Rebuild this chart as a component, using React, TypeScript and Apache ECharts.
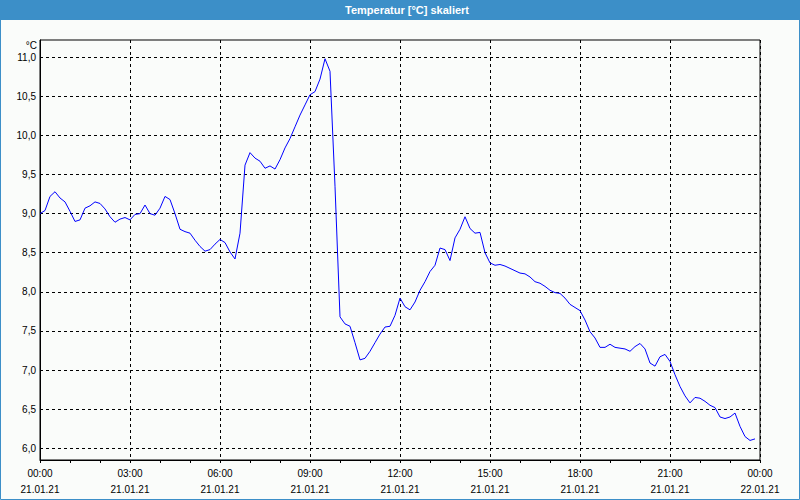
import React, { useEffect, useRef } from "react";
import * as echarts from "echarts";

// Temperature readings every 10 minutes, 21.01.21 00:00 .. 23:50
const temps: number[] = [
  9.0, 9.04, 9.22, 9.28, 9.2, 9.15, 9.03, 8.9, 8.92, 9.07,
  9.1, 9.15, 9.13, 9.06, 8.96, 8.89, 8.93, 8.95, 8.92, 8.99,
  9.0, 9.11, 9.0, 8.98, 9.07, 9.22, 9.18, 9.0, 8.8, 8.77,
  8.75, 8.66, 8.58, 8.52, 8.54, 8.61, 8.67, 8.63, 8.51, 8.42,
  8.75, 9.62, 9.78, 9.71, 9.67, 9.58, 9.61, 9.57, 9.69, 9.84,
  9.96, 10.11, 10.26, 10.39, 10.52, 10.56, 10.72, 10.98, 10.82, 9.35,
  7.68, 7.59, 7.56, 7.35, 7.13, 7.15, 7.24, 7.35, 7.46, 7.55,
  7.56, 7.7, 7.92, 7.81, 7.77, 7.87, 8.02, 8.13, 8.26, 8.34,
  8.56, 8.54, 8.4, 8.69, 8.8, 8.96, 8.81, 8.75, 8.76, 8.5,
  8.37, 8.34, 8.35, 8.33, 8.3, 8.27, 8.24, 8.23, 8.19, 8.13,
  8.11, 8.07, 8.02, 7.99, 7.98, 7.92, 7.84, 7.8, 7.76, 7.64,
  7.49, 7.41, 7.29, 7.29, 7.33, 7.29, 7.28, 7.27, 7.24, 7.3,
  7.34, 7.27, 7.09, 7.05, 7.17, 7.2, 7.11, 6.94, 6.79, 6.67,
  6.58, 6.65, 6.64, 6.6, 6.55, 6.52, 6.4, 6.38, 6.4, 6.45,
  6.28, 6.15, 6.1, 6.12,
];
const sampleMinutes = 10;

const xTickLabels: string[] = [
  "00:00\n21.01.21",
  "03:00\n21.01.21",
  "06:00\n21.01.21",
  "09:00\n21.01.21",
  "12:00\n21.01.21",
  "15:00\n21.01.21",
  "18:00\n21.01.21",
  "21:00\n21.01.21",
  "00:00\n22.01.21",
];
const yTicks: number[] = [6.0, 6.5, 7.0, 7.5, 8.0, 8.5, 9.0, 9.5, 10.0, 10.5, 11.0];

const TITLE = "Temperatur [°C] skaliert";
const UNIT = "°C";

const BLUE = "#3c8fc8";
const BG = "#fafcfa";
const FONT = "Liberation Sans";

export default function App() {
  const ref = useRef<HTMLDivElement>(null);

  useEffect(() => {
    if (!ref.current) return;
    const chart = echarts.init(ref.current, null, { renderer: "svg" });
    const data = temps.map((v, i) => [i * sampleMinutes, v]);
    chart.setOption({
      animation: false,
      backgroundColor: BG,
      grid: {
        left: 40,
        right: 40,
        top: 40,
        bottom: 40,
        show: true,
        borderColor: "#000",
        borderWidth: 1,
        backgroundColor: BG,
      },
      xAxis: {
        type: "value",
        min: 0,
        max: 1440,
        interval: 180,
        axisLine: { show: true, lineStyle: { color: "#000", width: 1 } },
        axisTick: { show: true, length: 3, lineStyle: { color: "#000" } },
        minorTick: { show: true, splitNumber: 3, length: 3, lineStyle: { color: "#000" } },
        splitLine: { show: true, lineStyle: { color: "#000", type: [3, 3], width: 1 } },
        axisLabel: {
          margin: 5,
          color: "#000",
          fontFamily: FONT,
          fontSize: 10,
          lineHeight: 16,
          align: "center",
          formatter: (v: number) => xTickLabels[Math.round(v / 180)] ?? "",
        },
      },
      yAxis: {
        type: "value",
        min: 5.85,
        max: 11.22,
        axisLine: { show: true, lineStyle: { color: "#000", width: 1 } },
        axisTick: { show: true, length: 0, customValues: yTicks },
        splitLine: { show: true, lineStyle: { color: "#000", type: [3, 3], width: 1 } },
        axisLabel: {
          customValues: yTicks,
          margin: 4,
          color: "#000",
          fontFamily: FONT,
          fontSize: 10,
          formatter: (v: number) => v.toFixed(1).replace(".", ","),
        },
      },
      graphic: [
        {
          type: "rect",
          shape: { x: 0, y: 0, width: 800, height: 20 },
          style: { fill: BLUE },
          z: 100,
        },
        {
          type: "text",
          x: 407,
          y: 10,
          style: {
            text: TITLE,
            fill: "#fff",
            font: `bold 11px "${FONT}"`,
            align: "center",
            verticalAlign: "middle",
          },
          z: 101,
        },
        {
          type: "rect",
          shape: { x: 0.5, y: 0.5, width: 799, height: 499 },
          style: { fill: "none", stroke: BLUE, lineWidth: 1 },
          z: 100,
        },
        {
          type: "text",
          x: 37,
          y: 45,
          style: {
            text: UNIT,
            fill: "#000",
            font: `10px "${FONT}"`,
            align: "right",
            verticalAlign: "middle",
          },
        },
      ],
      series: [
        {
          type: "line",
          data,
          showSymbol: false,
          symbol: "none",
          lineStyle: { color: "#0000ff", width: 1 },
          itemStyle: { color: "#0000ff" },
          z: 5,
        },
      ],
    });
    return () => chart.dispose();
  }, []);

  return (
    <div style={{ position: "absolute", left: 0, top: 0, width: 800, height: 500 }}>
      <div ref={ref} style={{ width: 800, height: 500 }} />
    </div>
  );
}
